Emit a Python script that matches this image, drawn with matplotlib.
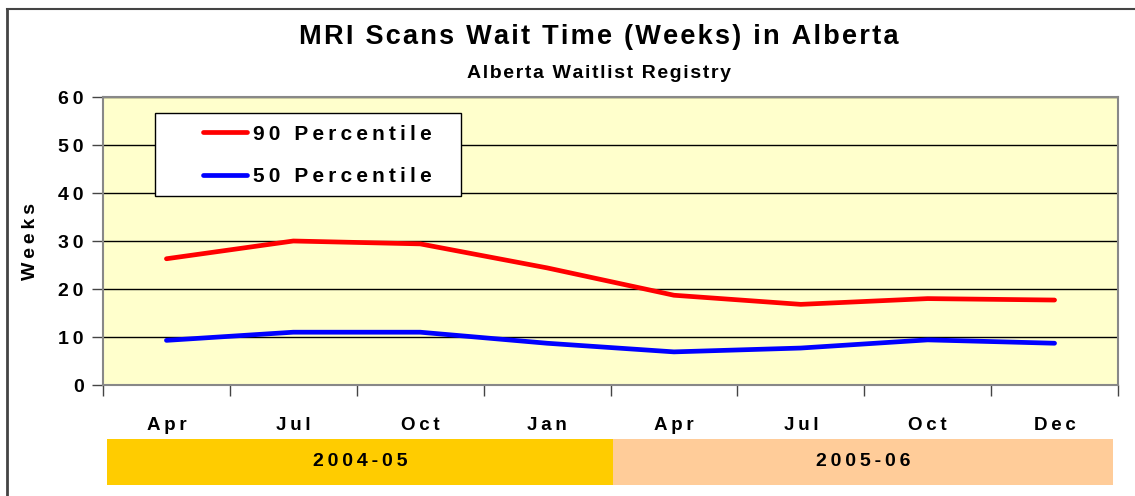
import matplotlib.pyplot as plt
from matplotlib.patches import Rectangle
import matplotlib.transforms as mtransforms

# datos
months = ["Apr", "Jul", "Oct", "Jan", "Apr", "Jul", "Oct", "Dec"]
p90 = [26.3, 30.0, 29.4, 24.4, 18.7, 16.8, 18.0, 17.7]
p50 = [9.3, 11.0, 11.0, 8.7, 6.9, 7.7, 9.4, 8.7]
fiscal_years = ["2004-05", "2005-06"]
fy_edges = [-0.47, 3.52, 7.46]
fy_colors = ["#FFCC00", "#FFCC99"]

FAM = ["Liberation Sans Narrow", "Liberation Sans", "DejaVu Sans"]


def spaced(s, sep="\u2009"):
    # simular el espaciado de letras del original
    return sep.join(s)


fig = plt.figure(figsize=(11.35, 4.96), dpi=100)
ax = fig.add_axes([103 / 1135, 1 - 385 / 496, 1015 / 1135, 288 / 496])
ax.set_facecolor("#FFFFCC")

x = list(range(len(months)))
ax.plot(x, p90, color="#FF0000", lw=3.4, solid_capstyle="round", label=spaced("90 Percentile"))
ax.plot(x, p50, color="#0000FF", lw=3.4, solid_capstyle="round", label=spaced("50 Percentile"))

ax.set_xlim(-0.5, len(months) - 0.5)
ax.set_ylim(0, 60)
ax.set_yticks(range(0, 61, 10))
ax.set_yticklabels([spaced(str(v)) for v in range(0, 61, 10)], family=FAM,
                   fontsize=14, fontweight="bold")
ax.yaxis.grid(True, color="black", lw=1)
ax.set_axisbelow(True)
ax.tick_params(axis="y", length=8, width=1, color="#444444", pad=6)

# ticks entre categorias
trans = mtransforms.blended_transform_factory(ax.transData, ax.transAxes)
ax.set_xticks([i - 0.5 for i in range(len(months) + 1)])
ax.set_xticklabels([])
ax.tick_params(axis="x", length=8, width=1, color="#444444")
for i, m in enumerate(months):
    ax.text(i, -0.14, spaced(m), transform=trans,
            ha="center", va="center", fontsize=13.5, fontweight="bold", family=FAM)

for s in ax.spines.values():
    s.set_color("#888888")
    s.set_linewidth(1.5)

ax.set_ylabel(spaced("Weeks"), family=FAM, fontsize=14, fontweight="bold", labelpad=14)

# bandas de año fiscal
for i, (fy, c) in enumerate(zip(fiscal_years, fy_colors)):
    a, b = fy_edges[i], fy_edges[i + 1]
    ax.add_patch(Rectangle((a, -0.347), b - a, 0.16, transform=trans, facecolor=c,
                           edgecolor="none", clip_on=False))
    ax.text((a + b) / 2, -0.267, spaced(fy), transform=trans, ha="center", va="center",
            fontsize=14, fontweight="bold", family=FAM)

# leyenda con marco propio
ax.add_patch(Rectangle(((155 - 103) / 1015, (385 - 196) / 288), 306 / 1015, 83 / 288,
                       transform=ax.transAxes, facecolor="white", edgecolor="black",
                       lw=1, zorder=4))
leg = ax.legend(loc="center left", bbox_to_anchor=((203 - 103) / 1015, (385 - 155.5) / 288),
                frameon=False, prop={"family": FAM, "size": 15, "weight": "bold"},
                handlelength=2.1, borderpad=0, labelspacing=1.15, handletextpad=0.3,
                borderaxespad=0)
leg.set_zorder(5)

# titulos
fig.text(599 / 1135, 1 - 37 / 496, spaced("MRI Scans Wait Time (Weeks) in Alberta", "\u200a"),
         ha="center", va="center", fontsize=19.5, fontweight="bold", family=FAM)
fig.text(599 / 1135, 1 - 73 / 496, spaced("Alberta Waitlist Registry", "\u200a"),
         ha="center", va="center", fontsize=14, fontweight="bold", family=FAM)

# marco exterior
fig.add_artist(plt.Line2D([7 / 1135, 7 / 1135], [0, 1 - 9 / 496], color="#444444", lw=2,
                          transform=fig.transFigure))
fig.add_artist(plt.Line2D([7 / 1135, 1], [1 - 9 / 496, 1 - 9 / 496], color="#444444", lw=1.5,
                          transform=fig.transFigure))

plt.savefig("out.png", dpi=100)
